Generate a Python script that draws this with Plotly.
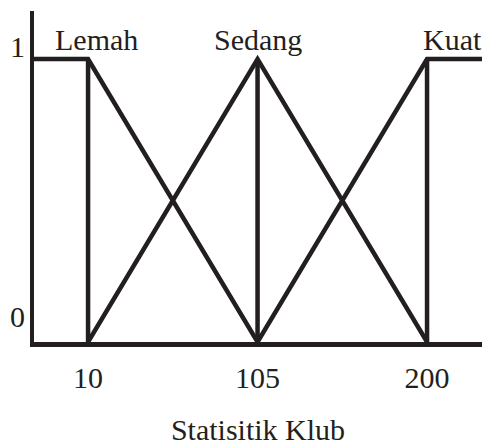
import plotly.graph_objects as go

# Data
x_min, x_max = -20.3, 230.8
breakpoints = [10, 105, 200]
lemah_x = [x_min, 10, 105]
lemah_y = [1, 1, 0]
sedang_x = [10, 105, 200]
sedang_y = [0, 1, 0]
kuat_x = [105, 200, x_max]
kuat_y = [0, 1, 1]
set_labels = ["Lemah", "Sedang", "Kuat"]
set_label_x = [15, 105, 214]
x_tick_vals = [10, 105, 200]
x_tick_text = ["10", "105", "200"]
y_tick_vals = [0, 1]
y_tick_text = ["0", "1"]
x_title = "Statisitik Klub"

INK = "#231f20"
FONT = "Liberation Serif"
FS = 30
LW = 4.5

fig = go.Figure()
for xs, ys in [(lemah_x, lemah_y), (sedang_x, sedang_y), (kuat_x, kuat_y)]:
    fig.add_trace(go.Scatter(x=xs, y=ys, mode="lines",
                             line=dict(color=INK, width=LW), hoverinfo="skip"))
for b in breakpoints:
    fig.add_trace(go.Scatter(x=[b, b], y=[0, 1], mode="lines",
                             line=dict(color=INK, width=LW), hoverinfo="skip"))

annotations = []
for lbl, lx in zip(set_labels, set_label_x):
    annotations.append(dict(x=lx, y=1, xref="x", yref="y", text=lbl,
                            showarrow=False, yshift=20,
                            font=dict(family=FONT, size=FS, color=INK)))
y_shifts = [26, 13]
for v, t, s in zip(y_tick_vals, y_tick_text, y_shifts):
    annotations.append(dict(x=0, y=v, xref="paper", yref="y", text=t,
                            showarrow=False, xanchor="right", xshift=-7, yshift=s,
                            font=dict(family=FONT, size=FS, color=INK)))

fig.update_layout(
    width=487, height=448,
    margin=dict(l=34, r=5, t=11, b=99),
    plot_bgcolor="white", paper_bgcolor="white",
    showlegend=False,
    annotations=annotations,
    xaxis=dict(range=[x_min, x_max], showgrid=False, zeroline=False,
               showline=True, linecolor=INK, linewidth=LW,
               tickvals=x_tick_vals, ticktext=x_tick_text, ticks="",
               ticklabelstandoff=5,
               tickfont=dict(family=FONT, size=FS, color=INK),
               title=dict(text=x_title, font=dict(family=FONT, size=FS, color=INK), standoff=28)),
    yaxis=dict(range=[0, 1.17], showgrid=False, zeroline=False,
               showline=True, linecolor=INK, linewidth=LW,
               showticklabels=False, ticks=""),
)

fig.write_html("out.html",
               config={"displayModeBar": False, "staticPlot": True},
               post_script="document.body.style.margin='0';document.body.style.overflow='hidden';")
